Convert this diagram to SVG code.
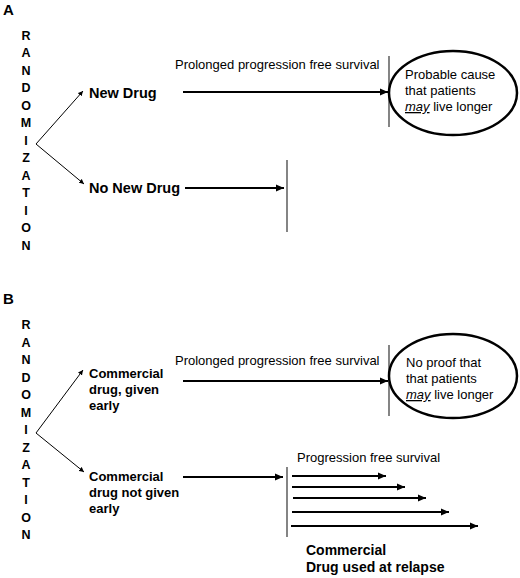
<svg xmlns="http://www.w3.org/2000/svg" width="520" height="578" viewBox="0 0 520 578">
<style>
text{font-family:"Liberation Sans",Arial,sans-serif;fill:#000}
.panel{font-size:15px;font-weight:bold}
.rand{font-size:12.5px;font-weight:bold;text-anchor:middle}
.lbl{font-size:14.5px;font-weight:bold}
.lblb{font-size:13px;font-weight:bold}
.reg{font-size:13px}
.thick{stroke:#000;stroke-width:2;fill:none;marker-end:url(#ah)}
.thin{stroke:#000;stroke-width:1;fill:none;marker-end:url(#ahs)}
.bar{stroke:#333;stroke-width:1.2}
.ell{fill:#fff;stroke:#000;stroke-width:2.5}
</style>
<defs>
<marker id="ah" markerWidth="9" markerHeight="9" refX="8" refY="4.5" orient="auto" markerUnits="userSpaceOnUse">
<path d="M0,1 L8,4.5 L0,8 Z" fill="#000"/>
</marker>
<marker id="ahs" markerWidth="6" markerHeight="6" refX="5" refY="3" orient="auto" markerUnits="userSpaceOnUse">
<path d="M0,0.5 L5,3 L0,5.5 Z" fill="#000"/>
</marker>
</defs>

<g id="panelA">
<text class="panel" x="3" y="15">A</text>
<g id="randA">
<text class="rand" x="26"><tspan x="26" y="39.5">R</tspan><tspan x="26" y="57">A</tspan><tspan x="26" y="74.5">N</tspan><tspan x="26" y="92">D</tspan><tspan x="26" y="109.5">O</tspan><tspan x="26" y="127">M</tspan><tspan x="26" y="144.5">I</tspan><tspan x="26" y="162">Z</tspan><tspan x="26" y="179.5">A</tspan><tspan x="26" y="197">T</tspan><tspan x="26" y="214.5">I</tspan><tspan x="26" y="232">O</tspan><tspan x="26" y="249.5">N</tspan></text>
</g>
<g id="newDrug"><text class="lbl" x="89" y="97.5">New Drug</text></g>
<g id="noNewDrug"><text class="lbl" x="89" y="193">No New Drug</text></g>
<g id="pfsA"><text class="reg" x="175" y="69">Prolonged progression free survival</text></g>
<g id="endA1"><line class="bar" x1="389" y1="56" x2="389" y2="127"/></g>
<g id="ellipseA">
<ellipse class="ell" cx="453" cy="93" rx="64" ry="42"/>
<text class="reg" x="405" y="79">Probable cause</text>
<text class="reg" x="405" y="95">that patients</text>
<text class="reg" x="405" y="111"><tspan font-style="italic" text-decoration="underline">may</tspan> live longer</text>
</g>
<g id="endA2"><line class="bar" x1="287" y1="160" x2="287" y2="232"/></g>
</g>

<g id="panelB">
<text class="panel" x="3" y="304">B</text>
<g id="randB">
<text class="rand" x="26"><tspan x="26" y="329">R</tspan><tspan x="26" y="346.5">A</tspan><tspan x="26" y="364">N</tspan><tspan x="26" y="381.5">D</tspan><tspan x="26" y="399">O</tspan><tspan x="26" y="416.5">M</tspan><tspan x="26" y="434">I</tspan><tspan x="26" y="451.5">Z</tspan><tspan x="26" y="469">A</tspan><tspan x="26" y="486.5">T</tspan><tspan x="26" y="504">I</tspan><tspan x="26" y="521.5">O</tspan><tspan x="26" y="539">N</tspan></text>
</g>
<g id="earlyDrug"><text class="lblb"><tspan x="89" y="378">Commercial</tspan><tspan x="89" y="394">drug, given</tspan><tspan x="89" y="410">early</tspan></text></g>
<g id="notEarly"><text class="lblb"><tspan x="89" y="481">Commercial</tspan><tspan x="89" y="497">drug not given</tspan><tspan x="89" y="513">early</tspan></text></g>
<g id="pfsB"><text class="reg" x="175" y="365">Prolonged progression free survival</text></g>
<g id="endB1"><line class="bar" x1="389" y1="345" x2="389" y2="416"/></g>
<g id="ellipseB">
<ellipse class="ell" cx="453" cy="376" rx="64" ry="42"/>
<text class="reg" x="406" y="367">No proof that</text>
<text class="reg" x="406" y="383">that patients</text>
<text class="reg" x="406" y="399"><tspan font-style="italic" text-decoration="underline">may</tspan> live longer</text>
</g>
<g id="endB2"><line class="bar" x1="287" y1="467" x2="287" y2="537"/></g>
<g id="pfsB2"><text class="reg" x="297" y="462">Progression free survival</text></g>
<g id="relapse"><text class="lbl" style="font-size:14px"><tspan x="306" y="555">Commercial</tspan><tspan x="306" y="572">Drug used at relapse</tspan></text></g>
</g>

<g id="connectors">
<line class="thin" x1="36" y1="144" x2="83" y2="91"/>
<line class="thin" x1="36" y1="144" x2="84" y2="184"/>
<line class="thick" x1="183" y1="92" x2="388" y2="92"/>
<line class="thick" x1="185" y1="188" x2="284" y2="188"/>
<line class="thin" x1="36" y1="433" x2="83" y2="370"/>
<line class="thin" x1="36" y1="433" x2="84" y2="472"/>
<line class="thick" x1="183" y1="381" x2="388" y2="381"/>
<line class="thick" x1="183" y1="477" x2="283" y2="477"/>
<line class="thick" x1="292" y1="476" x2="386" y2="476"/>
<line class="thick" x1="292" y1="487" x2="405" y2="487"/>
<line class="thick" x1="293" y1="498" x2="426" y2="498"/>
<line class="thick" x1="292" y1="512" x2="449" y2="512"/>
<line class="thick" x1="291" y1="526" x2="478" y2="526"/>
</g>
</svg>
